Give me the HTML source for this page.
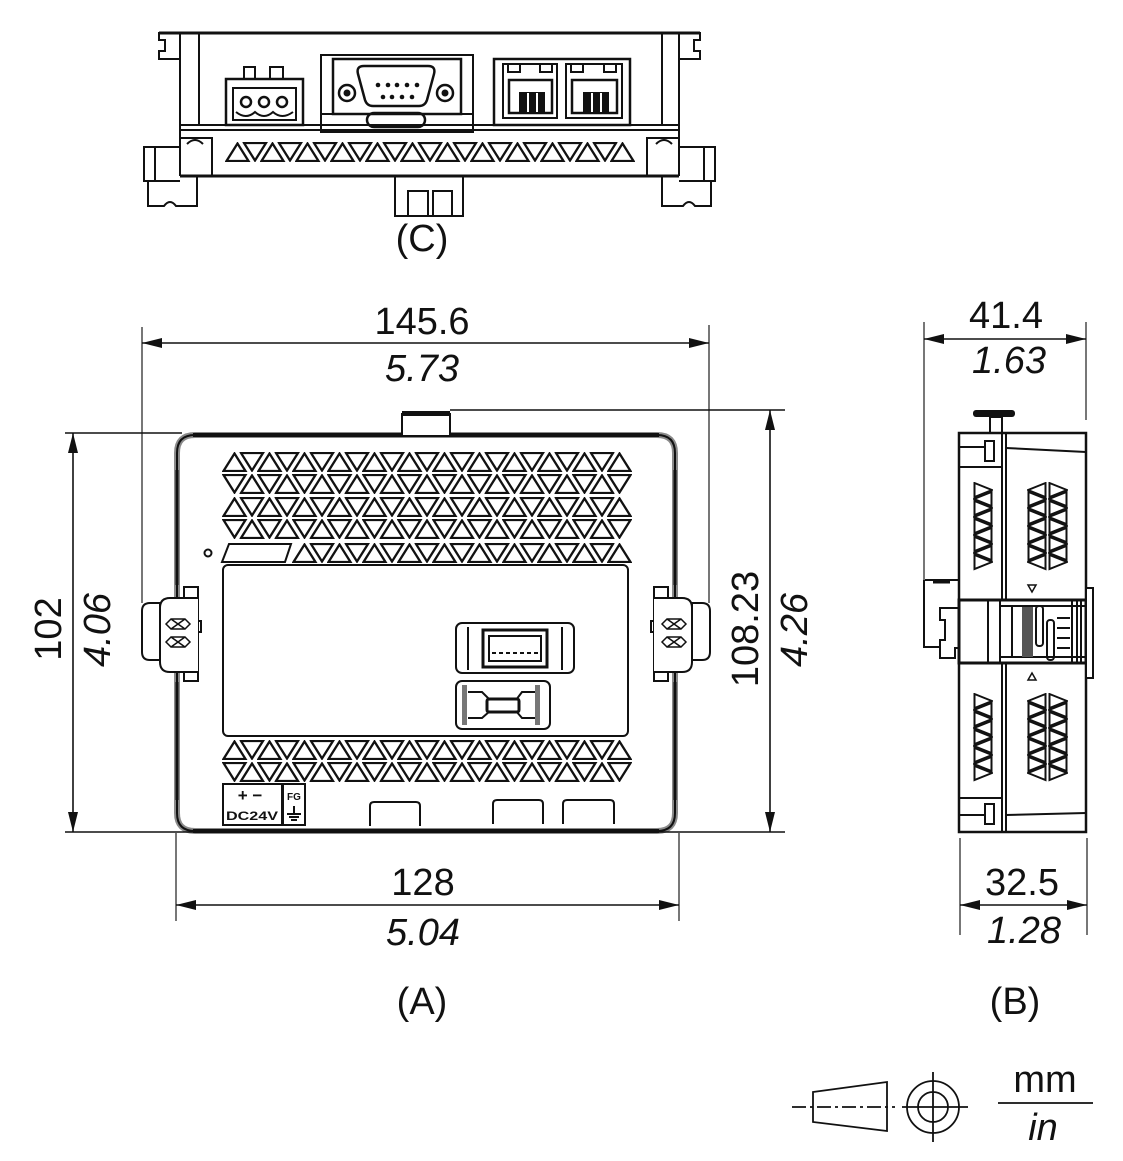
<!DOCTYPE html>
<html><head><meta charset="utf-8"><style>
html,body{margin:0;padding:0;background:#fff}
svg{display:block}
text{font-family:"Liberation Sans",sans-serif;fill:#111}
</style></head><body>
<svg width="1123" height="1161" viewBox="0 0 1123 1161" xmlns="http://www.w3.org/2000/svg">
<defs>
<pattern id="pu" x="0" y="0" width="35" height="20" patternUnits="userSpaceOnUse"><path d="M1.5 19 L12.5 1.5 L23.5 19 Z" fill="#fff" stroke="#111" stroke-width="2.3"/></pattern>
<pattern id="pd" x="0" y="0" width="35" height="20" patternUnits="userSpaceOnUse"><path d="M1.5 1 L23.5 1 L12.5 18.5 Z" fill="#fff" stroke="#111" stroke-width="2.3"/></pattern>
<pattern id="pu2" x="17.5" y="0" width="35" height="20" patternUnits="userSpaceOnUse"><path d="M1.5 19 L12.5 1.5 L23.5 19 Z" fill="#fff" stroke="#111" stroke-width="2.3"/></pattern>
<pattern id="pd2" x="17.5" y="0" width="35" height="20" patternUnits="userSpaceOnUse"><path d="M1.5 1 L23.5 1 L12.5 18.5 Z" fill="#fff" stroke="#111" stroke-width="2.3"/></pattern>
<pattern id="pr" x="0" y="0" width="20" height="18" patternUnits="userSpaceOnUse"><path d="M1.5 1 L19 8 L1.5 15 Z" fill="#fff" stroke="#111" stroke-width="2"/></pattern>
<pattern id="pl" x="0" y="0" width="20" height="18" patternUnits="userSpaceOnUse"><path d="M18.5 1 L1 8 L18.5 15 Z" fill="#fff" stroke="#111" stroke-width="2"/></pattern>
<pattern id="pr2" x="0" y="9" width="20" height="18" patternUnits="userSpaceOnUse"><path d="M1.5 1 L19 8 L1.5 15 Z" fill="#fff" stroke="#111" stroke-width="2"/></pattern>
<pattern id="pl2" x="0" y="9" width="20" height="18" patternUnits="userSpaceOnUse"><path d="M18.5 1 L1 8 L18.5 15 Z" fill="#fff" stroke="#111" stroke-width="2"/></pattern>
</defs>

<!-- ================= TOP VIEW (C) ================= -->
<g fill="none" stroke="#111" stroke-width="2">
  <line x1="159" y1="33" x2="700" y2="33" stroke-width="3"/>
  <polyline points="180,33 159,33 159,40 165,40 165,51 159,51 159,59 180,59"/>
  <polyline points="679,33 700,33 700,40 694,40 694,51 700,51 700,59 679,59"/>
  <line x1="180" y1="33" x2="180" y2="176"/>
  <line x1="199" y1="33" x2="199" y2="125"/>
  <line x1="679" y1="33" x2="679" y2="176"/>
  <line x1="662" y1="33" x2="662" y2="125"/>
  <line x1="180" y1="125" x2="679" y2="125"/>
  <line x1="180" y1="130" x2="679" y2="130"/>
  <line x1="180" y1="176" x2="679" y2="176" stroke-width="3"/>
  <polyline points="180,138 212,138 212,176"/>
  <path d="M187,144 Q195,136 203,144"/>
  <polyline points="679,138 647,138 647,176"/>
  <path d="M656,144 Q664,136 672,144"/>
  <polyline points="180,147 144,147 144,181 180,181"/>
  <line x1="155" y1="147" x2="155" y2="181"/>
  <path d="M148,181 V206 H164 Q170,198 176,206 H197 V176"/>
  <polyline points="679,147 715,147 715,181 679,181"/>
  <line x1="704" y1="147" x2="704" y2="181"/>
  <path d="M711,181 V206 H695 Q689,198 683,206 H662 V176"/>
  <polyline points="395,176 395,216 463,216 463,176"/>
  <rect x="408" y="191" width="20" height="25"/>
  <rect x="433" y="191" width="19" height="25"/>
  <rect x="244" y="67" width="11" height="12"/>
  <rect x="270" y="67" width="13" height="12"/>
  <rect x="226" y="79" width="77" height="46" stroke-width="2.5"/>
  <rect x="233" y="88" width="63" height="32"/>
  <circle cx="246" cy="102" r="5" stroke-width="2.5"/>
  <circle cx="264" cy="102" r="5" stroke-width="2.5"/>
  <circle cx="282" cy="102" r="5" stroke-width="2.5"/>
  <path d="M236,112 Q246,120 255,112 Q264,120 273,112 Q282,120 293,112"/>
  <rect x="321" y="55" width="152" height="77"/>
  <line x1="321" y1="114" x2="473" y2="114"/>
  <rect x="333" y="59" width="128" height="55" stroke-width="2.5"/>
  <path d="M364,66 H428 Q436,66 434,74 L427,100 Q425,106 419,106 H373 Q367,106 365,100 L358,74 Q356,66 364,66 Z" stroke-width="2.5"/>
  <rect x="367" y="113" width="58" height="14" rx="7" stroke-width="2.5"/>
  <circle cx="347" cy="93" r="8" stroke-width="2.5"/>
  <circle cx="445" cy="93" r="8" stroke-width="2.5"/>
  <rect x="494" y="59" width="136" height="66" stroke-width="2.5"/>
  <rect x="503" y="64" width="54" height="54"/>
  <rect x="509" y="80" width="43" height="33" stroke-width="2.5"/>
  <rect x="566" y="64" width="56" height="54"/>
  <rect x="572" y="80" width="45" height="33" stroke-width="2.5"/>
  <rect x="508" y="64" width="12" height="8"/>
  <rect x="540" y="64" width="12" height="8"/>
  <rect x="571" y="64" width="12" height="8"/>
  <rect x="604" y="64" width="12" height="8"/>
</g>
<g fill="#111">
  <circle cx="347" cy="93" r="3.5"/><circle cx="445" cy="93" r="3.5"/>
  <circle cx="378" cy="85" r="2.3"/><circle cx="388" cy="85" r="2.3"/><circle cx="397" cy="85" r="2.3"/><circle cx="407" cy="85" r="2.3"/><circle cx="417" cy="85" r="2.3"/>
  <circle cx="383" cy="97" r="2.3"/><circle cx="392" cy="97" r="2.3"/><circle cx="402" cy="97" r="2.3"/><circle cx="412" cy="97" r="2.3"/>
  <rect x="519" y="92" width="26" height="21"/>
  <rect x="583" y="92" width="26" height="21"/>
</g>
<g stroke="#fff" stroke-width="2">
  <line x1="528" y1="93" x2="528" y2="112"/><line x1="537" y1="93" x2="537" y2="112"/>
  <line x1="592" y1="93" x2="592" y2="112"/><line x1="601" y1="93" x2="601" y2="112"/>
</g>
<g transform="translate(225,142)"><rect width="410" height="20" fill="url(#pu)"/><rect x="17.5" width="375" height="20" fill="url(#pd2)"/></g>

<text x="422" y="251" font-size="38" text-anchor="middle">(C)</text>

<!-- ================= FRONT VIEW (A) ================= -->
<path d="M195,435 H657 Q675,435 675,453 V813 Q675,831 657,831 H195 Q177,831 177,813 V453 Q177,435 195,435 Z" fill="none" stroke="#8a8a8a" stroke-width="6"/>
<path d="M195,435 H657 Q675,435 675,453 V813 Q675,831 657,831 H195 Q177,831 177,813 V453 Q177,435 195,435 Z" fill="none" stroke="#111" stroke-width="2"/>
<line x1="193" y1="435" x2="659" y2="435" stroke="#111" stroke-width="4"/>
<line x1="193" y1="831" x2="659" y2="831" stroke="#111" stroke-width="4"/>
<g stroke="#111" stroke-width="3">
  <line x1="177" y1="470" x2="177" y2="585"/><line x1="177" y1="682" x2="177" y2="800"/>
  <line x1="675" y1="470" x2="675" y2="585"/><line x1="675" y1="682" x2="675" y2="800"/>
</g>
<polyline points="402,435 402,414 450,414 450,435" fill="#fff" stroke="#111" stroke-width="2"/>
<rect x="402" y="411" width="48" height="5" fill="#111"/>

<g transform="translate(222,452)"><rect width="410" height="20" fill="url(#pu)"/><rect x="17.5" width="375" height="20" fill="url(#pd2)"/></g>
<g transform="translate(222,474)"><rect width="410" height="20" fill="url(#pd)"/><rect x="17.5" width="375" height="20" fill="url(#pu2)"/></g>
<g transform="translate(222,497)"><rect width="410" height="20" fill="url(#pu)"/><rect x="17.5" width="375" height="20" fill="url(#pd2)"/></g>
<g transform="translate(222,519)"><rect width="410" height="20" fill="url(#pd)"/><rect x="17.5" width="375" height="20" fill="url(#pu2)"/></g>
<g transform="translate(292,543)"><rect width="340" height="20" fill="url(#pu)"/><rect x="17.5" width="305" height="20" fill="url(#pd2)"/></g>
<polygon points="222,562 229,544 291,544 285,562" fill="none" stroke="#111" stroke-width="2"/>
<circle cx="208" cy="553" r="3.5" fill="none" stroke="#111" stroke-width="2"/>
<g transform="translate(222,740)"><rect width="410" height="20" fill="url(#pu)"/><rect x="17.5" width="375" height="20" fill="url(#pd2)"/></g>
<g transform="translate(222,762)"><rect width="410" height="20" fill="url(#pd)"/><rect x="17.5" width="375" height="20" fill="url(#pu2)"/></g>

<rect x="223" y="565" width="405" height="171" rx="5" fill="none" stroke="#111" stroke-width="2"/>

<g fill="none" stroke="#111" stroke-width="2">
  <rect x="456" y="623" width="118" height="50" rx="6"/>
  <line x1="468" y1="627" x2="468" y2="670"/><line x1="562" y1="627" x2="562" y2="670"/>
  <rect x="483" y="630" width="64" height="37" stroke-width="3"/>
  <rect x="489" y="636" width="52" height="25"/>
  <line x1="492" y1="653" x2="538" y2="653" stroke-dasharray="4 3"/>
  <rect x="456" y="681" width="94" height="48" rx="6"/>
  <path d="M468,692 H482 L490,700 M468,718 H482 L490,711 M535,692 H522 L516,700 M535,718 H522 L516,711"/>
  <rect x="487" y="699" width="32" height="13" rx="2" stroke-width="3"/>
</g>
<rect x="462" y="685" width="5" height="40" fill="#777"/>
<rect x="535" y="685" width="5" height="40" fill="#777"/>

<g fill="none" stroke="#111" stroke-width="2">
  <rect x="223" y="784" width="59" height="41"/>
  <rect x="283" y="784" width="22" height="41"/>
</g>
<text x="250" y="801" font-size="17" font-weight="bold" text-anchor="middle">+ −</text>
<text x="252" y="820" font-size="12" font-weight="bold" text-anchor="middle" textLength="52" lengthAdjust="spacingAndGlyphs">DC24V</text>
<text x="294" y="800" font-size="10" font-weight="bold" text-anchor="middle">FG</text>
<g stroke="#111" stroke-width="2">
  <line x1="294" y1="806" x2="294" y2="814"/>
  <line x1="287" y1="814" x2="301" y2="814"/>
  <line x1="289" y1="817" x2="299" y2="817"/>
  <line x1="291" y1="820" x2="297" y2="820"/>
</g>
<g fill="none" stroke="#111" stroke-width="2">
  <path d="M370,826 V806 Q370,802 374,802 H416 Q420,802 420,806 V826"/>
  <path d="M493,824 V804 Q493,800 497,800 H539 Q543,800 543,804 V824"/>
  <path d="M563,824 V804 Q563,800 567,800 H610 Q614,800 614,804 V824"/>
</g>

<g fill="#fff" stroke="#111" stroke-width="2">
  <path d="M184,681 V587 H198 V681 Z"/>
  <path d="M198,598 H170 Q160,598 160,608 V662 Q160,672 170,672 H198"/>
  <path d="M160,603 H150 Q142,603 142,611 V652 Q142,660 150,660 H160 Z"/>
  <path d="M198,621 H201 V632 H198" fill="none"/>
  <g fill="none" stroke-width="1.5">
    <path d="M166,624 L171,619 H185 L190,624 L185,629 H171 Z M171,619 L185,629 M185,619 L171,629"/>
    <path d="M166,642 L171,637 H185 L190,642 L185,647 H171 Z M171,637 L185,647 M185,637 L171,647"/>
  </g>
</g>
<g transform="translate(852,0) scale(-1,1)" fill="#fff" stroke="#111" stroke-width="2">
  <path d="M184,681 V587 H198 V681 Z"/>
  <path d="M198,598 H170 Q160,598 160,608 V662 Q160,672 170,672 H198"/>
  <path d="M160,603 H150 Q142,603 142,611 V652 Q142,660 150,660 H160 Z"/>
  <path d="M198,621 H201 V632 H198" fill="none"/>
  <g fill="none" stroke-width="1.5">
    <path d="M166,624 L171,619 H185 L190,624 L185,629 H171 Z M171,619 L185,629 M185,619 L171,629"/>
    <path d="M166,642 L171,637 H185 L190,642 L185,647 H171 Z M171,637 L185,647 M185,637 L171,647"/>
  </g>
</g>

<!-- ================= SIDE VIEW (B) ================= -->
<g fill="none" stroke="#111" stroke-width="2">
  <rect x="990" y="417" width="12" height="16" fill="#fff"/>
  <rect x="959" y="433" width="127" height="399" stroke-width="2.5"/>
  <line x1="1002" y1="433" x2="1002" y2="832"/>
  <line x1="1006" y1="433" x2="1006" y2="832"/>
  <line x1="1006" y1="448" x2="1086" y2="452"/>
  <line x1="1006" y1="815" x2="1086" y2="813"/>
  <line x1="959" y1="447" x2="985" y2="447"/>
  <line x1="959" y1="467" x2="1002" y2="467"/>
  <rect x="985" y="441" width="9" height="20"/>
  <line x1="959" y1="798" x2="1002" y2="798"/>
  <line x1="959" y1="815" x2="985" y2="815"/>
  <rect x="985" y="804" width="9" height="20"/>
  <rect x="959" y="600" width="127" height="63" fill="#fff" stroke-width="3"/>
  <line x1="988" y1="600" x2="988" y2="663"/>
  <line x1="1000" y1="600" x2="1000" y2="663"/>
  <line x1="1012" y1="605" x2="1012" y2="658"/>
  <line x1="1000" y1="606" x2="1086" y2="606"/>
  <line x1="1000" y1="657" x2="1086" y2="657"/>
  <rect x="1036" y="606" width="7" height="40" rx="3"/>
  <rect x="1047" y="620" width="7" height="40" rx="3"/>
  <line x1="1057" y1="618" x2="1070" y2="618"/>
  <line x1="1057" y1="628" x2="1070" y2="628"/>
  <line x1="1057" y1="638" x2="1070" y2="638"/>
  <line x1="1057" y1="648" x2="1070" y2="648"/>
  <line x1="1072" y1="600" x2="1072" y2="663"/>
  <line x1="1077" y1="600" x2="1077" y2="663"/>
  <line x1="1081" y1="600" x2="1081" y2="663"/>
  <rect x="1086" y="588" width="7" height="90" fill="#fff"/>
  <path d="M959,580 H924 V647 H940 V658 H955 V648 H959"/>
  <path d="M940,647 V640 H945 V620 H940 V608 H959"/>
  <line x1="933" y1="582" x2="950" y2="582" stroke-width="3"/>
</g>
<rect x="973" y="410" width="42" height="7" rx="3" fill="#111"/>
<rect x="1022" y="607" width="11" height="50" fill="#555"/>
<polygon points="1028,585 1036,585 1032,592" fill="none" stroke="#111" stroke-width="1.5"/>
<polygon points="1028,680 1036,680 1032,673" fill="none" stroke="#111" stroke-width="1.5"/>
<g transform="translate(973,482)"><rect width="20" height="90" fill="url(#pr)"/><rect y="9" width="20" height="72" fill="url(#pl2)"/></g>
<g transform="translate(1027,482)"><rect width="20" height="90" fill="url(#pl)"/><rect y="9" width="20" height="72" fill="url(#pr2)"/></g>
<g transform="translate(1048,482)"><rect width="20" height="90" fill="url(#pr)"/><rect y="9" width="20" height="72" fill="url(#pl2)"/></g>
<g transform="translate(973,693)"><rect width="20" height="90" fill="url(#pr)"/><rect y="9" width="20" height="72" fill="url(#pl2)"/></g>
<g transform="translate(1027,693)"><rect width="20" height="90" fill="url(#pl)"/><rect y="9" width="20" height="72" fill="url(#pr2)"/></g>
<g transform="translate(1048,693)"><rect width="20" height="90" fill="url(#pr)"/><rect y="9" width="20" height="72" fill="url(#pl2)"/></g>

<!-- ================= DIMENSIONS ================= -->
<g stroke="#777" stroke-width="2">
  <line x1="142" y1="327" x2="142" y2="603"/>
  <line x1="709" y1="325" x2="709" y2="603"/>
  <line x1="176" y1="833" x2="176" y2="921"/>
  <line x1="679" y1="833" x2="679" y2="921"/>
  <line x1="924" y1="322" x2="924" y2="580"/>
  <line x1="1086" y1="322" x2="1086" y2="420"/>
  <line x1="960" y1="838" x2="960" y2="935"/>
  <line x1="1087" y1="838" x2="1087" y2="935"/>
</g>
<g stroke="#111" stroke-width="1.6">
  <line x1="65" y1="433" x2="182" y2="433"/>
  <line x1="65" y1="832" x2="785" y2="832"/>
  <line x1="450" y1="410" x2="785" y2="410"/>
  <line x1="142" y1="343" x2="709" y2="343"/>
  <line x1="73" y1="433" x2="73" y2="832"/>
  <line x1="770" y1="410" x2="770" y2="832"/>
  <line x1="176" y1="905" x2="679" y2="905"/>
  <line x1="924" y1="339" x2="1086" y2="339"/>
  <line x1="960" y1="905" x2="1087" y2="905"/>
</g>
<g fill="#111">
  <polygon points="142,343 162,338 162,348"/><polygon points="709,343 689,338 689,348"/>
  <polygon points="73,433 68,453 78,453"/><polygon points="73,832 68,812 78,812"/>
  <polygon points="770,410 765,430 775,430"/><polygon points="770,832 765,812 775,812"/>
  <polygon points="176,905 196,900 196,910"/><polygon points="679,905 659,900 659,910"/>
  <polygon points="924,339 944,334 944,344"/><polygon points="1086,339 1066,334 1066,344"/>
  <polygon points="960,905 980,900 980,910"/><polygon points="1087,905 1067,900 1067,910"/>
</g>
<g font-size="38" text-anchor="middle">
  <text x="422" y="334">145.6</text>
  <text x="422" y="381" font-style="italic">5.73</text>
  <text x="423" y="895">128</text>
  <text x="423" y="945" font-style="italic">5.04</text>
  <text x="1006" y="328">41.4</text>
  <text x="1009" y="373" font-style="italic">1.63</text>
  <text x="1022" y="895">32.5</text>
  <text x="1024" y="943" font-style="italic">1.28</text>
  <text transform="translate(61,629) rotate(-90)">102</text>
  <text transform="translate(110,630) rotate(-90)" font-style="italic">4.06</text>
  <text transform="translate(758,629) rotate(-90)">108.23</text>
  <text transform="translate(807,630) rotate(-90)" font-style="italic">4.26</text>
  <text x="422" y="1014">(A)</text>
  <text x="1015" y="1014">(B)</text>
</g>

<!-- ================= SYMBOL ================= -->
<g fill="none" stroke="#111" stroke-width="1.8">
  <polygon points="813,1092 887,1082 887,1131 813,1122"/>
  <line x1="792" y1="1107" x2="895" y2="1107" stroke-dasharray="14 4 3 4"/>
  <circle cx="933" cy="1107" r="26"/>
  <circle cx="933" cy="1107" r="15"/>
  <line x1="933" y1="1072" x2="933" y2="1142"/>
  <line x1="902" y1="1107" x2="968" y2="1107"/>
  <line x1="998" y1="1103" x2="1093" y2="1103"/>
</g>
<text x="1045" y="1092" font-size="38" text-anchor="middle">mm</text>
<text x="1043" y="1140" font-size="38" text-anchor="middle" font-style="italic">in</text>
</svg>
</body></html>
